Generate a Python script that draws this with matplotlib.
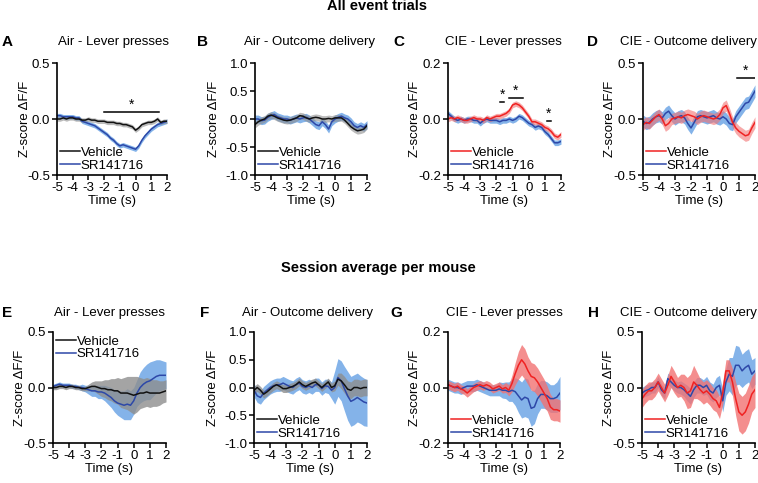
import numpy as np
import matplotlib
matplotlib.use("Agg")
import matplotlib.pyplot as plt

plt.rcParams['font.family'] = ['Liberation Sans', 'DejaVu Sans']
plt.rcParams['axes.unicode_minus'] = False

# time axis, 0.2 s steps from -5 to 2
t = np.round(np.linspace(-5, 2, 36), 2)

# ---- A: air, lever presses, all trials
a_veh = [0.00, 0.00, 0.01, 0.00, 0.01, 0.01, 0.00, 0.00, -0.01, -0.01, 0.00, -0.01,
         -0.01, -0.02, -0.02, -0.02, -0.03, -0.03, -0.03, -0.04, -0.04, -0.05, -0.05, -0.06,
         -0.07, -0.10, -0.08, -0.05, -0.04, -0.03, -0.03, -0.02, 0.00, -0.03, -0.02, -0.02]
a_sr = [0.03, 0.03, 0.02, 0.02, 0.02, 0.02, 0.01, 0.01, -0.02, -0.03, -0.04, -0.05,
        -0.06, -0.08, -0.10, -0.12, -0.14, -0.17, -0.19, -0.22, -0.24, -0.23, -0.24, -0.25,
        -0.26, -0.27, -0.24, -0.19, -0.15, -0.12, -0.09, -0.07, -0.05, -0.04, -0.03, -0.02]
a_veh_sem = 0.02
a_sr_sem = 0.02

# ---- B: air, outcome delivery, all trials
b_veh = [-0.10, -0.05, -0.02, 0.00, 0.05, 0.07, 0.05, 0.02, 0.00, -0.02, -0.03, -0.02,
         0.00, 0.02, 0.06, 0.05, 0.02, 0.00, 0.02, 0.03, 0.02, 0.00, 0.00, 0.01,
         0.00, 0.02, 0.02, 0.02, -0.02, -0.08, -0.14, -0.18, -0.21, -0.20, -0.18, -0.12]
b_sr = [0.00, 0.00, -0.03, -0.02, 0.03, 0.06, 0.08, 0.04, 0.02, 0.00, 0.00, -0.02,
        0.00, 0.02, 0.00, 0.02, 0.03, 0.00, -0.05, -0.10, -0.12, -0.05, -0.10, -0.18,
        -0.05, 0.00, 0.03, 0.05, 0.02, 0.00, -0.05, -0.12, -0.15, -0.12, -0.15, -0.10]
b_veh_sem = 0.06
b_sr_sem = 0.07

# ---- C: CIE, lever presses, all trials
c_veh = [0.000, 0.005, 0.000, 0.005, 0.000, -0.005, -0.005, 0.000, 0.005, 0.000, 0.000, -0.005,
         0.005, 0.000, 0.005, 0.010, 0.010, 0.015, 0.020, 0.030, 0.050, 0.055, 0.050, 0.040,
         0.025, 0.010, -0.010, -0.010, -0.015, -0.020, -0.030, -0.035, -0.045, -0.060, -0.065, -0.055]
c_sr = [0.020, 0.010, 0.000, -0.005, 0.000, -0.005, 0.000, 0.000, -0.005, -0.005, -0.015, -0.005,
        0.000, -0.005, -0.005, -0.005, -0.010, -0.005, -0.005, 0.000, -0.005, 0.000, 0.010, 0.005,
        -0.005, -0.015, -0.020, -0.030, -0.025, -0.030, -0.045, -0.055, -0.070, -0.085, -0.085, -0.080]
c_veh_sem = 0.01
c_sr_sem = 0.01

# ---- D: CIE, outcome delivery, all trials
d_veh = [-0.05, -0.03, -0.04, -0.01, 0.02, 0.04, 0.00, -0.06, -0.04, 0.00, 0.01, 0.02,
         0.01, 0.03, 0.04, 0.03, 0.02, 0.00, 0.02, 0.03, 0.02, 0.01, 0.00, 0.01,
         0.04, 0.10, 0.12, 0.05, -0.03, -0.08, -0.11, -0.13, -0.15, -0.14, -0.08, -0.03]
d_sr = [-0.02, -0.04, -0.03, 0.00, 0.02, 0.03, 0.01, 0.05, 0.07, 0.03, 0.00, 0.02,
        0.03, 0.01, -0.04, -0.08, -0.03, 0.02, 0.03, 0.02, 0.01, 0.02, 0.03, 0.01,
        0.00, 0.02, 0.00, -0.04, -0.05, 0.02, 0.06, 0.10, 0.14, 0.15, 0.20, 0.25]
d_veh_sem = 0.05
d_sr_sem = 0.055

# ---- E: air, lever presses, per mouse
e_veh = [0.00, 0.00, 0.01, 0.01, 0.00, 0.01, 0.01, 0.00, 0.00, -0.01, -0.01, 0.00,
         0.01, 0.01, 0.00, -0.01, -0.01, -0.02, -0.02, -0.03, -0.03, -0.05, -0.05, -0.05,
         -0.06, -0.07, -0.06, -0.05, -0.05, -0.04, -0.05, -0.05, -0.05, -0.05, -0.04, -0.03]
e_veh_sem = [0.02, 0.02, 0.02, 0.02, 0.02, 0.02, 0.02, 0.02, 0.02, 0.02, 0.02, 0.03,
             0.04, 0.05, 0.06, 0.07, 0.08, 0.09, 0.10, 0.11, 0.12, 0.13, 0.14, 0.15,
             0.16, 0.17, 0.16, 0.14, 0.13, 0.13, 0.13, 0.12, 0.12, 0.11, 0.10, 0.10]
e_sr = [0.01, 0.02, 0.03, 0.02, 0.02, 0.02, 0.01, 0.01, 0.00, 0.00, -0.01, -0.02,
        -0.03, -0.03, -0.04, -0.04, -0.05, -0.07, -0.09, -0.12, -0.14, -0.15, -0.16, -0.15,
        -0.16, -0.12, -0.05, 0.00, 0.03, 0.05, 0.06, 0.08, 0.10, 0.11, 0.11, 0.11]
e_sr_sem = [0.02, 0.02, 0.02, 0.02, 0.02, 0.02, 0.02, 0.02, 0.02, 0.03, 0.03, 0.04,
            0.05, 0.05, 0.06, 0.06, 0.07, 0.08, 0.09, 0.10, 0.11, 0.12, 0.13, 0.14,
            0.13, 0.12, 0.12, 0.14, 0.15, 0.16, 0.17, 0.16, 0.15, 0.14, 0.13, 0.12]

# ---- F: air, outcome delivery, per mouse
f_veh = [-0.05, 0.00, -0.05, -0.12, -0.08, -0.03, 0.02, 0.05, 0.02, -0.02, -0.02, 0.00,
         0.02, 0.05, 0.10, 0.05, 0.02, 0.05, 0.08, 0.10, 0.05, 0.00, 0.05, 0.10,
         0.00, 0.03, 0.15, 0.12, 0.05, -0.03, -0.05, 0.00, 0.00, -0.02, 0.00, 0.00]
f_veh_sem = [0.07, 0.07, 0.07, 0.07, 0.07, 0.07, 0.07, 0.07, 0.07, 0.07, 0.07, 0.07,
             0.07, 0.07, 0.07, 0.07, 0.07, 0.07, 0.07, 0.07, 0.07, 0.07, 0.07, 0.07,
             0.08, 0.09, 0.11, 0.14, 0.15, 0.15, 0.15, 0.15, 0.15, 0.15, 0.15, 0.15]
f_sr = [-0.05, -0.15, -0.18, -0.10, -0.05, 0.00, 0.03, 0.05, 0.05, 0.08, 0.05, 0.02,
        0.00, 0.05, 0.08, 0.02, 0.00, 0.03, 0.00, 0.05, 0.05, -0.02, 0.03, 0.02,
        -0.05, 0.00, 0.18, 0.12, -0.02, -0.15, -0.25, -0.22, -0.18, -0.22, -0.26, -0.28]
f_sr_sem = [0.12, 0.12, 0.12, 0.12, 0.12, 0.12, 0.12, 0.12, 0.12, 0.12, 0.12, 0.12,
            0.12, 0.12, 0.12, 0.12, 0.12, 0.12, 0.12, 0.12, 0.12, 0.12, 0.12, 0.13,
            0.15, 0.30, 0.34, 0.36, 0.40, 0.44, 0.45, 0.45, 0.44, 0.43, 0.43, 0.42]

# ---- G: CIE, lever presses, per mouse
g_veh = [0.010, 0.005, 0.000, 0.005, -0.005, -0.010, -0.020, -0.010, 0.000, 0.005, 0.010, 0.005,
         0.010, 0.005, -0.005, 0.000, 0.005, -0.005, 0.000, -0.010, 0.015, 0.050, 0.080, 0.100,
         0.085, 0.060, 0.040, 0.035, 0.020, 0.000, -0.020, -0.040, -0.070, -0.080, -0.080, -0.085]
g_veh_sem = [0.015, 0.015, 0.015, 0.015, 0.015, 0.015, 0.015, 0.015, 0.015, 0.015, 0.015, 0.015,
             0.015, 0.015, 0.015, 0.015, 0.015, 0.015, 0.018, 0.020, 0.030, 0.040, 0.050, 0.055,
             0.055, 0.050, 0.050, 0.050, 0.050, 0.050, 0.050, 0.045, 0.045, 0.040, 0.040, 0.040]
g_sr = [0.010, 0.005, 0.000, 0.000, -0.005, 0.000, 0.005, 0.005, 0.005, 0.010, 0.005, 0.000,
        -0.005, -0.010, -0.010, -0.010, -0.005, -0.010, -0.010, -0.015, -0.010, -0.015, -0.030, -0.045,
        -0.035, -0.040, -0.075, -0.070, -0.040, -0.025, -0.025, -0.030, -0.040, -0.040, -0.035, -0.020]
g_sr_sem = [0.020, 0.020, 0.020, 0.020, 0.020, 0.020, 0.020, 0.020, 0.020, 0.020, 0.020, 0.020,
            0.020, 0.020, 0.020, 0.020, 0.025, 0.028, 0.030, 0.035, 0.040, 0.050, 0.060, 0.065,
            0.070, 0.070, 0.065, 0.060, 0.055, 0.050, 0.050, 0.050, 0.050, 0.050, 0.055, 0.060]

# ---- H: CIE, outcome delivery, per mouse
h_veh = [-0.10, -0.06, -0.03, -0.03, 0.00, 0.05, 0.00, -0.05, 0.02, 0.10, 0.05, 0.00,
         0.02, 0.00, -0.05, -0.03, 0.05, 0.02, -0.02, -0.05, -0.03, -0.06, -0.10, -0.12,
         -0.18, -0.05, 0.15, 0.15, 0.05, -0.10, -0.22, -0.25, -0.22, -0.15, -0.06, -0.02]
h_veh_sem = [0.08, 0.08, 0.08, 0.08, 0.08, 0.08, 0.08, 0.08, 0.09, 0.10, 0.10, 0.09,
             0.10, 0.12, 0.14, 0.15, 0.15, 0.12, 0.10, 0.10, 0.10, 0.10, 0.10, 0.10,
             0.10, 0.10, 0.10, 0.10, 0.12, 0.15, 0.17, 0.17, 0.17, 0.17, 0.16, 0.16]
h_sr = [-0.05, -0.03, -0.02, 0.00, 0.00, 0.05, -0.02, -0.05, 0.08, 0.05, 0.02, 0.00,
        0.00, -0.02, -0.05, -0.08, -0.02, 0.02, 0.02, 0.00, 0.02, -0.03, -0.05, 0.00,
        0.02, -0.12, 0.05, 0.12, 0.10, 0.20, 0.20, 0.15, 0.18, 0.20, 0.12, 0.15]
h_sr_sem = [0.05, 0.05, 0.05, 0.05, 0.05, 0.05, 0.05, 0.05, 0.05, 0.05, 0.05, 0.05,
            0.06, 0.06, 0.07, 0.07, 0.07, 0.07, 0.07, 0.07, 0.08, 0.08, 0.08, 0.09,
            0.09, 0.10, 0.12, 0.15, 0.17, 0.18, 0.17, 0.15, 0.15, 0.15, 0.13, 0.12]

titles = ["Air - Lever presses", "Air - Outcome delivery", "CIE - Lever presses", "CIE - Outcome delivery"]
letters = ["A", "B", "C", "D", "E", "F", "G", "H"]
ylims = [0.5, 1.0, 0.2, 0.5]
yticks = [[-0.5, 0.0, 0.5], [-1.0, -0.5, 0.0, 0.5, 1.0], [-0.2, 0.0, 0.2], [-0.5, 0.0, 0.5]]

# significance bars: (start, end, y)
sig = {
    0: [(-2.0, 1.5, 0.065)],
    2: [(-1.75, -1.55, 0.062), (-1.25, -0.35, 0.075), (1.15, 1.35, -0.008)],
    3: [(0.85, 2.0, 0.37)],
}

panels = [
    (a_veh, a_veh_sem, a_sr, a_sr_sem),
    (b_veh, b_veh_sem, b_sr, b_sr_sem),
    (c_veh, c_veh_sem, c_sr, c_sr_sem),
    (d_veh, d_veh_sem, d_sr, d_sr_sem),
    (e_veh, e_veh_sem, e_sr, e_sr_sem),
    (f_veh, f_veh_sem, f_sr, f_sr_sem),
    (g_veh, g_veh_sem, g_sr, g_sr_sem),
    (h_veh, h_veh_sem, h_sr, h_sr_sem),
]

W, H = 758, 483
fig = plt.figure(figsize=(W / 100, H / 100), dpi=100)

# axes boxes in pixels: left, right, top, bottom
boxes = [(57, 167, 63, 175), (255, 367, 63, 175), (448, 561, 63, 175), (643, 755, 63, 175),
         (53, 166, 332, 443), (254, 367, 332, 443), (448, 560, 332, 443), (642, 755, 332, 443)]
title_x = [113, 310, 503, 688, 110, 308, 504, 688]
letter_x = [2, 197, 393, 587, 2, 200, 390, 588]
ylabel_x = [-0.24, -0.31, -0.24, -0.24]

blue = "#2d48a8"
blue_fill = "#6ea6e6"
red = "#f02222"
red_fill = "#f27272"
black = "#111111"
grey_fill = "#8e8e8e"
fs = 9.5

for i, (veh, veh_sem, sr, sr_sem) in enumerate(panels):
    l, r, tp, b = boxes[i]
    ax = fig.add_axes([l / W, 1 - b / H, (r - l) / W, (b - tp) / H])
    col = i % 4
    cie = col >= 2
    vc = red if cie else black
    vf = red_fill if cie else grey_fill
    veh = np.array(veh)
    sr = np.array(sr)
    veh_sem = np.array(veh_sem)
    sr_sem = np.array(sr_sem)

    ax.fill_between(t, sr - sr_sem, sr + sr_sem, color=blue_fill, alpha=0.85, lw=0)
    ax.fill_between(t, veh - veh_sem, veh + veh_sem, color=vf, alpha=0.8 if i >= 4 else 0.6, lw=0)
    ax.plot(t, sr, color=blue, lw=1.1, label="SR141716")
    ax.plot(t, veh, color=vc, lw=1.1, label="Vehicle")

    ax.set_xlim(-5, 2)
    ax.set_ylim(-ylims[col], ylims[col])
    ax.set_xticks(range(-5, 3))
    ax.set_yticks(yticks[col])
    ax.set_yticklabels(["%.1f" % v for v in yticks[col]])
    for s in ["top", "right"]:
        ax.spines[s].set_visible(False)
    for s in ["left", "bottom"]:
        ax.spines[s].set_linewidth(1.2)
    ax.tick_params(direction="out", length=3.5, width=1.1, labelsize=fs, pad=1.5)
    ax.set_xlabel("Time (s)", fontsize=fs, labelpad=1)
    ax.set_ylabel("Z-score ΔF/F", fontsize=fs)
    ax.yaxis.set_label_coords(ylabel_x[col], 0.5)

    for x0, x1, y in sig.get(i, []):
        ax.plot([x0, x1], [y, y], color="black", lw=1.1)
        ax.text((x0 + x1) / 2, y, "*", ha="center", va="bottom", fontsize=10)

    h, lab = ax.get_legend_handles_labels()
    loc = "upper left" if i == 4 else "lower left"
    ax.legend(h[::-1], lab[::-1], loc=loc, frameon=False, fontsize=fs, handlelength=1.5,
              handletextpad=0.05, labelspacing=0.05, borderaxespad=0.15, borderpad=0.1)

    ty = 42 if i < 4 else 313
    fig.text(title_x[i] / W, 1 - ty / H, titles[col], ha="center", va="center", fontsize=fs)
    fig.text(letter_x[i] / W, 1 - ty / H, letters[i], ha="left", va="center",
             fontsize=11, fontweight="bold")

fig.text(377 / W, 1 - 6 / H, "All event trials", ha="center", va="center",
         fontsize=10.5, fontweight="bold")
fig.text(378 / W, 1 - 268 / H, "Session average per mouse", ha="center", va="center",
         fontsize=10.5, fontweight="bold")

fig.savefig("out.png", dpi=100)
